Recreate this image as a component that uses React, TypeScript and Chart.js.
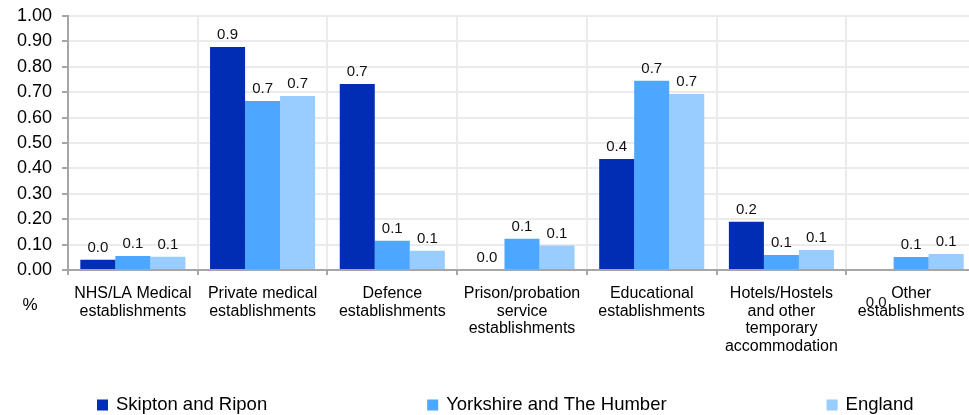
import React, { useEffect, useRef } from "react";
import { Chart, registerables } from "chart.js";

Chart.register(...registerables);

const categories: string[][] = [
  ["NHS/LA Medical", "establishments"],
  ["Private medical", "establishments"],
  ["Defence", "establishments"],
  ["Prison/probation", "service", "establishments"],
  ["Educational", "establishments"],
  ["Hotels/Hostels", "and other", "temporary", "accommodation"],
  ["Other", "establishments"],
];
const seriesNames = ["Skipton and Ripon", "Yorkshire and The Humber", "England"];
const skipton = [0.04, 0.878, 0.732, 0, 0.437, 0.19, 0];
const yorkshire = [0.055, 0.665, 0.115, 0.123, 0.745, 0.059, 0.051];
const england = [0.052, 0.685, 0.076, 0.096, 0.693, 0.079, 0.063];
const yAxisLabel = "%";
const yMin = 0;
const yMax = 1;
const yStep = 0.1;

const colors = ["#002db3", "#4da6ff", "#99ccff"];
const FONT = '"Liberation Sans", Arial, sans-serif';

const labelsPlugin = {
  id: "customLabels",
  afterDatasetsDraw(chart: any) {
    const ctx = chart.ctx;
    const area = chart.chartArea;
    ctx.save();
    ctx.font = `15px ${FONT}`;
    ctx.fillStyle = "#111";
    ctx.textAlign = "center";
    ctx.textBaseline = "middle";
    chart.data.datasets.forEach((ds: any, di: number) => {
      const meta = chart.getDatasetMeta(di);
      meta.data.forEach((el: any, i: number) => {
        const v = ds.data[i];
        const txt = Number(v).toFixed(1);
        // the original drops the last zero label below the axis
        if (di === 0 && i === ds.data.length - 1 && v === 0) {
          ctx.fillText(txt, el.x, area.bottom + 33);
        } else {
          ctx.fillText(txt, el.x, el.y - 12);
        }
      });
    });
    // "%" axis label
    ctx.font = `17px ${FONT}`;
    ctx.fillStyle = "#000";
    ctx.fillText(yAxisLabel, area.left - 38, area.bottom + 35);

    // legend
    ctx.font = `18.5px ${FONT}`;
    ctx.textAlign = "left";
    const box = 11;
    const gap = 160;
    let x = area.left + 29;
    const y = chart.height - 10;
    chart.data.datasets.forEach((ds: any) => {
      ctx.fillStyle = ds.backgroundColor;
      ctx.fillRect(x, y - box / 2, box, box);
      ctx.fillStyle = "#000";
      ctx.fillText(ds.label, x + box + 8, y);
      x += box + 8 + ctx.measureText(ds.label).width + gap;
    });
    ctx.restore();
  },
};

export default function App() {
  const ref = useRef<HTMLCanvasElement | null>(null);
  useEffect(() => {
    if (!ref.current) return;
    const chart = new Chart(ref.current, {
      type: "bar",
      data: {
        labels: categories,
        datasets: [skipton, yorkshire, england].map((d, i) => ({
          label: seriesNames[i],
          data: d,
          backgroundColor: colors[i],
          borderWidth: 0,
          barPercentage: 1,
          categoryPercentage: 0.81,
        })),
      },
      options: {
        responsive: false,
        animation: false,
        layout: { padding: { top: 16, left: 0, right: 0, bottom: 0 } },
        plugins: { legend: { display: false }, tooltip: { enabled: false } },
        scales: {
          x: {
            grid: {
              color: "#ebebeb",
              lineWidth: 2,
              tickColor: "#a6a6a6",
              tickLength: 5,
              offset: true,
            },
            border: { color: "#a6a6a6", width: 2 },
            ticks: {
              color: "#000",
              font: { family: FONT, size: 16, lineHeight: 1.1 },
              padding: 10,
              maxRotation: 0,
              autoSkip: false,
            },
            afterFit(scale: any) {
              scale.height = 145;
            },
          },
          y: {
            min: yMin,
            max: yMax,
            grid: {
              color: "#ebebeb",
              lineWidth: 2,
              tickColor: "#a6a6a6",
              tickLength: 6,
            },
            border: { color: "#a6a6a6", width: 2 },
            ticks: {
              stepSize: yStep,
              color: "#000",
              font: { family: FONT, size: 18, lineHeight: 0.6 },
              padding: 10,
              callback: (v: any) => Number(v).toFixed(2),
            },
            afterFit(scale: any) {
              scale.width = 68;
            },
          },
        },
      },
      plugins: [labelsPlugin],
    });
    return () => chart.destroy();
  }, []);
  return (
    <div
      style={{
        position: "fixed",
        left: 0,
        top: 0,
        width: 969,
        height: 415,
        overflow: "hidden",
        background: "#fff",
      }}
    >
      <canvas ref={ref} width={976} height={415} style={{ width: 976, height: 415, display: "block" }} />
    </div>
  );
}
